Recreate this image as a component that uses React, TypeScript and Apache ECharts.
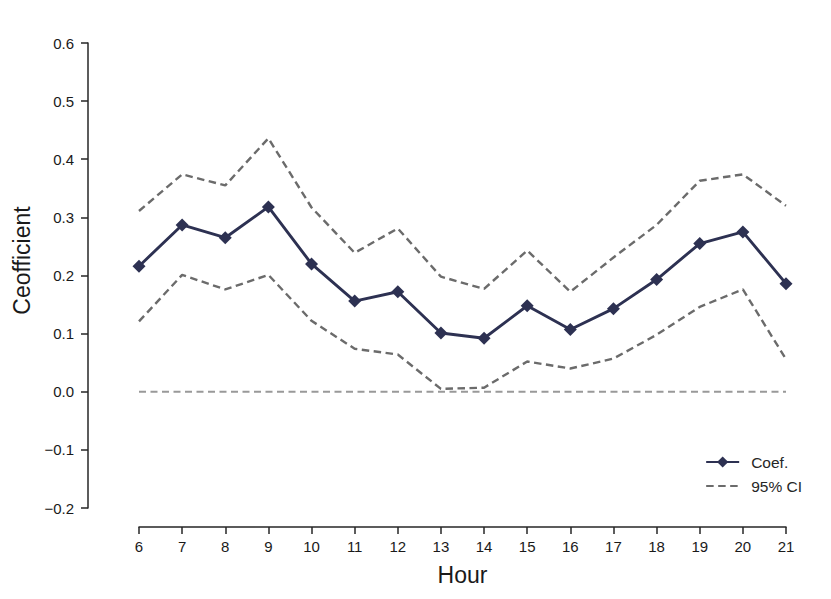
import React, { useEffect, useRef } from "react";
import * as echarts from "echarts";

const hours = [6, 7, 8, 9, 10, 11, 12, 13, 14, 15, 16, 17, 18, 19, 20, 21];
const coef = [0.216, 0.287, 0.265, 0.318, 0.220, 0.156, 0.172, 0.101, 0.092, 0.148, 0.107, 0.143, 0.193, 0.255, 0.275, 0.186];
const upperCI = [0.311, 0.374, 0.355, 0.436, 0.317, 0.239, 0.281, 0.198, 0.177, 0.243, 0.172, 0.231, 0.287, 0.363, 0.374, 0.320];
const lowerCI = [0.121, 0.201, 0.176, 0.201, 0.122, 0.074, 0.064, 0.005, 0.007, 0.052, 0.040, 0.057, 0.098, 0.146, 0.176, 0.056];
const zeroLine = [0, 0];
const zeroHours = [6, 21];
const yTicks = [-0.2, -0.1, 0.0, 0.1, 0.2, 0.3, 0.4, 0.5, 0.6];

const FONT = "Liberation Sans, Arial, sans-serif";

export default function App() {
  const ref = useRef<HTMLDivElement>(null);
  useEffect(() => {
    if (!ref.current) return;
    const chart = echarts.init(ref.current, null, { renderer: "svg" });
    const axisColor = "#262626";
    chart.setOption({
      animation: false,
      textStyle: { fontFamily: FONT },
      grid: { left: 139, right: 45, top: 43, bottom: 91, containLabel: false },
      legend: {
        orient: "vertical",
        right: 24,
        top: 449,
        itemWidth: 33,
        itemHeight: 14,
        itemGap: 8,
        textStyle: { fontSize: 15.5, color: "#262626", fontFamily: FONT, padding: [0, 0, 0, 7] },
        data: [
          { name: "Coef." },
          { name: "95% CI", itemStyle: { opacity: 0 } },
        ],
      },
      xAxis: {
        type: "value",
        min: hours[0],
        max: hours[hours.length - 1],
        interval: 1,
        offset: 19,
        name: "Hour",
        nameLocation: "middle",
        nameGap: 36,
        nameTextStyle: { fontSize: 23, color: "#1a1a1a", fontFamily: FONT },
        axisLine: { show: true, onZero: false, lineStyle: { color: axisColor, width: 1.5 } },
        axisTick: { show: true, length: 7, lineStyle: { color: axisColor, width: 1.5 } },
        axisLabel: { fontSize: 15, color: "#1a1a1a", margin: 12 },
        splitLine: { show: false },
      },
      yAxis: {
        type: "value",
        min: yTicks[0],
        max: yTicks[yTicks.length - 1],
        interval: 0.1,
        offset: 51,
        name: "Ceofficient",
        nameLocation: "middle",
        nameGap: 55,
        nameTextStyle: { fontSize: 23, color: "#1a1a1a", fontFamily: FONT, padding: [0, 0, 0, 30] },
        axisLine: { show: true, onZero: false, lineStyle: { color: axisColor, width: 1.5 } },
        axisTick: { show: true, length: 7, lineStyle: { color: axisColor, width: 1.5 } },
        axisLabel: {
          fontSize: 15,
          color: "#1a1a1a",
          margin: 14,
          formatter: (v: number) => {
            const s = Math.abs(v).toFixed(1);
            return v < -1e-9 ? "\u2212" + s : s;
          },
        },
        splitLine: { show: false },
      },
      series: [
        {
          name: "zero",
          type: "line",
          data: zeroHours.map((h, i) => [h, zeroLine[i]]),
          symbol: "none",
          lineStyle: { color: "#999999", width: 2, type: [7, 4.5] },
          z: 1,
          silent: true,
        },
        {
          name: "95% CI",
          type: "line",
          data: hours.map((h, i) => [h, upperCI[i]]),
          symbol: "none",
          lineStyle: { color: "#6b6b6b", width: 2.4, type: [7.5, 4.5] },
          itemStyle: { color: "#6b6b6b" },
          z: 2,
        },
        {
          name: "95% CI",
          type: "line",
          data: hours.map((h, i) => [h, lowerCI[i]]),
          symbol: "none",
          lineStyle: { color: "#6b6b6b", width: 2.4, type: [7.5, 4.5] },
          itemStyle: { color: "#6b6b6b" },
          z: 2,
        },
        {
          name: "Coef.",
          type: "line",
          data: hours.map((h, i) => [h, coef[i]]),
          symbol: "diamond",
          symbolSize: 13,
          lineStyle: { color: "#2d3152", width: 2.9 },
          itemStyle: { color: "#2d3152" },
          z: 3,
        },
      ],
    });
    return () => chart.dispose();
  }, []);
  return <div ref={ref} style={{ width: 831, height: 599, position: "absolute", left: 0, top: 0 }} />;
}
